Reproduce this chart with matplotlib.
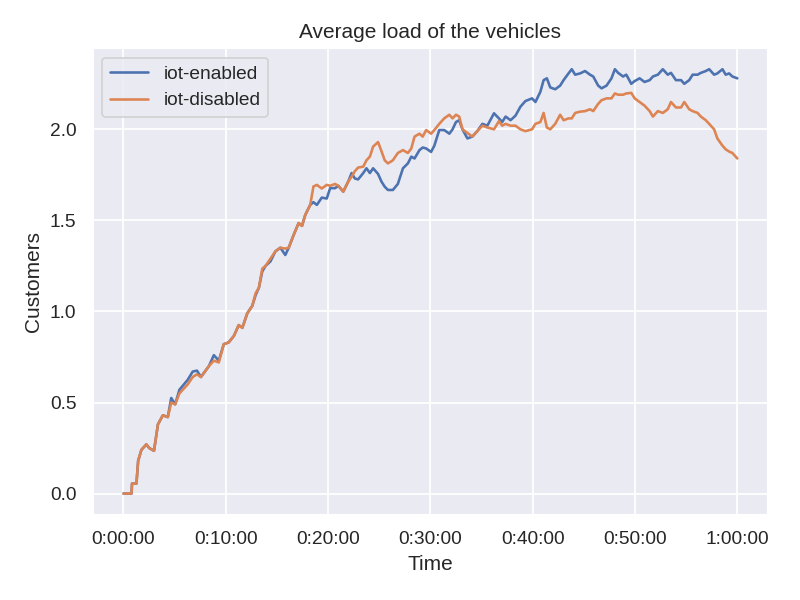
import numpy as np
import matplotlib
matplotlib.use("Agg")
import matplotlib.pyplot as plt
import matplotlib.ticker as mticker
import seaborn as sns

sns.set_theme()
plt.rcParams['font.family'] = ['Liberation Sans', 'DejaVu Sans']

# time in seconds since start
times = [0, 47, 50, 76, 86, 105, 134, 151, 179, 202, 231, 260, 280, 303, 328,
         377, 406, 431, 454, 501, 530, 559, 588, 617, 647, 676, 697, 726, 755,
         775, 794, 814, 833, 862, 891, 920, 949, 969, 998, 1027, 1047, 1066,
         1095, 1114, 1134, 1163, 1192, 1212, 1241, 1260, 1289, 1318, 1338, 1357,
         1376, 1406, 1425, 1445, 1464, 1493, 1513, 1532, 1551, 1580, 1609, 1639,
         1668, 1688, 1707, 1736, 1755, 1775, 1804, 1823, 1852, 1881, 1911, 1930,
         1950, 1969, 1988, 2017, 2046, 2075, 2105, 2134, 2173, 2202, 2221, 2241,
         2270, 2299, 2328, 2357, 2396, 2416, 2445, 2464, 2483, 2503, 2532, 2561,
         2581, 2610, 2629, 2649, 2678, 2707, 2736, 2755, 2784, 2804, 2833, 2862,
         2882, 2901, 2930, 2949, 2978, 2998, 3027, 3056, 3086, 3105, 3134, 3163,
         3192, 3211, 3240, 3270, 3289, 3318, 3338, 3367, 3386, 3415, 3435, 3464,
         3483, 3513, 3532, 3552, 3571, 3600]

iot_enabled = [0, 0, 0.055, 0.055, 0.18, 0.24, 0.27, 0.25, 0.235, 0.38, 0.43, 0.42,
               0.525, 0.49, 0.57, 0.625, 0.67, 0.675, 0.64, 0.70, 0.76, 0.73, 0.82,
               0.83, 0.865, 0.925, 0.91, 0.99, 1.03, 1.09, 1.13, 1.22, 1.25, 1.275,
               1.33, 1.35, 1.31, 1.35, 1.42, 1.485, 1.47, 1.53, 1.585, 1.60, 1.585,
               1.625, 1.62, 1.677, 1.677, 1.69, 1.658, 1.713, 1.76, 1.73, 1.725,
               1.76, 1.786, 1.76, 1.786, 1.755, 1.713, 1.685, 1.667, 1.667, 1.70,
               1.786, 1.813, 1.85, 1.84, 1.886, 1.90, 1.895, 1.876, 1.91, 1.996,
               1.996, 1.976, 2.0, 2.04, 2.05, 2.0, 1.95, 1.96, 1.99, 2.03, 2.02,
               2.088, 2.06, 2.04, 2.07, 2.05, 2.075, 2.124, 2.155, 2.17, 2.15,
               2.206, 2.27, 2.28, 2.23, 2.22, 2.24, 2.27, 2.307, 2.33, 2.30, 2.307,
               2.32, 2.30, 2.29, 2.24, 2.225, 2.24, 2.28, 2.33, 2.31, 2.29, 2.30,
               2.25, 2.265, 2.28, 2.26, 2.27, 2.29, 2.30, 2.33, 2.30, 2.31, 2.27,
               2.27, 2.25, 2.27, 2.30, 2.30, 2.31, 2.32, 2.33, 2.30, 2.307, 2.33,
               2.30, 2.307, 2.29, 2.28]

iot_disabled = [0, 0, 0.055, 0.055, 0.18, 0.24, 0.27, 0.25, 0.235, 0.38, 0.43, 0.42,
                0.50, 0.49, 0.55, 0.60, 0.64, 0.655, 0.64, 0.70, 0.73, 0.72, 0.82,
                0.83, 0.865, 0.925, 0.91, 0.99, 1.03, 1.10, 1.13, 1.235, 1.25, 1.29,
                1.33, 1.35, 1.345, 1.35, 1.42, 1.485, 1.47, 1.53, 1.585, 1.686, 1.695,
                1.675, 1.695, 1.69, 1.70, 1.69, 1.658, 1.713, 1.74, 1.77, 1.79,
                1.795, 1.83, 1.85, 1.905, 1.93, 1.88, 1.83, 1.813, 1.83, 1.87,
                1.886, 1.87, 1.895, 1.96, 1.976, 1.96, 1.996, 1.976, 1.996, 2.03,
                2.06, 2.08, 2.06, 2.08, 2.07, 2.0, 1.98, 1.96, 1.99, 2.02, 2.01,
                2.0, 2.045, 2.02, 2.03, 2.02, 2.02, 2.0, 1.99, 2.0, 2.03,
                2.04, 2.09, 2.01, 2.0, 2.03, 2.08, 2.05, 2.06, 2.06, 2.09, 2.097,
                2.10, 2.11, 2.10, 2.14, 2.16, 2.17, 2.17, 2.197, 2.19, 2.19, 2.197,
                2.20, 2.17, 2.15, 2.13, 2.10, 2.07, 2.10, 2.09, 2.11, 2.15, 2.12,
                2.12, 2.15, 2.11, 2.10, 2.09, 2.07, 2.05, 2.03, 2.0, 1.95,
                1.91, 1.89, 1.878, 1.87, 1.84]


def fmt_time(s, pos):
    s = int(round(s))
    return "%d:%02d:%02d" % (s // 3600, (s % 3600) // 60, s % 60)


fig, ax = plt.subplots(figsize=(6.4, 4.8), dpi=125)
ax.plot(times, iot_enabled, label="iot-enabled")
ax.plot(times, iot_disabled, label="iot-disabled")
ax.xaxis.set_major_locator(mticker.MultipleLocator(600))
ax.xaxis.set_major_formatter(mticker.FuncFormatter(fmt_time))
ax.set_title("Average load of the vehicles")
ax.set_xlabel("Time")
ax.set_ylabel("Customers")
ax.legend(loc="upper left")
fig.subplots_adjust(left=0.116, right=0.96, top=0.92, bottom=0.142)
fig.savefig("out.png")
